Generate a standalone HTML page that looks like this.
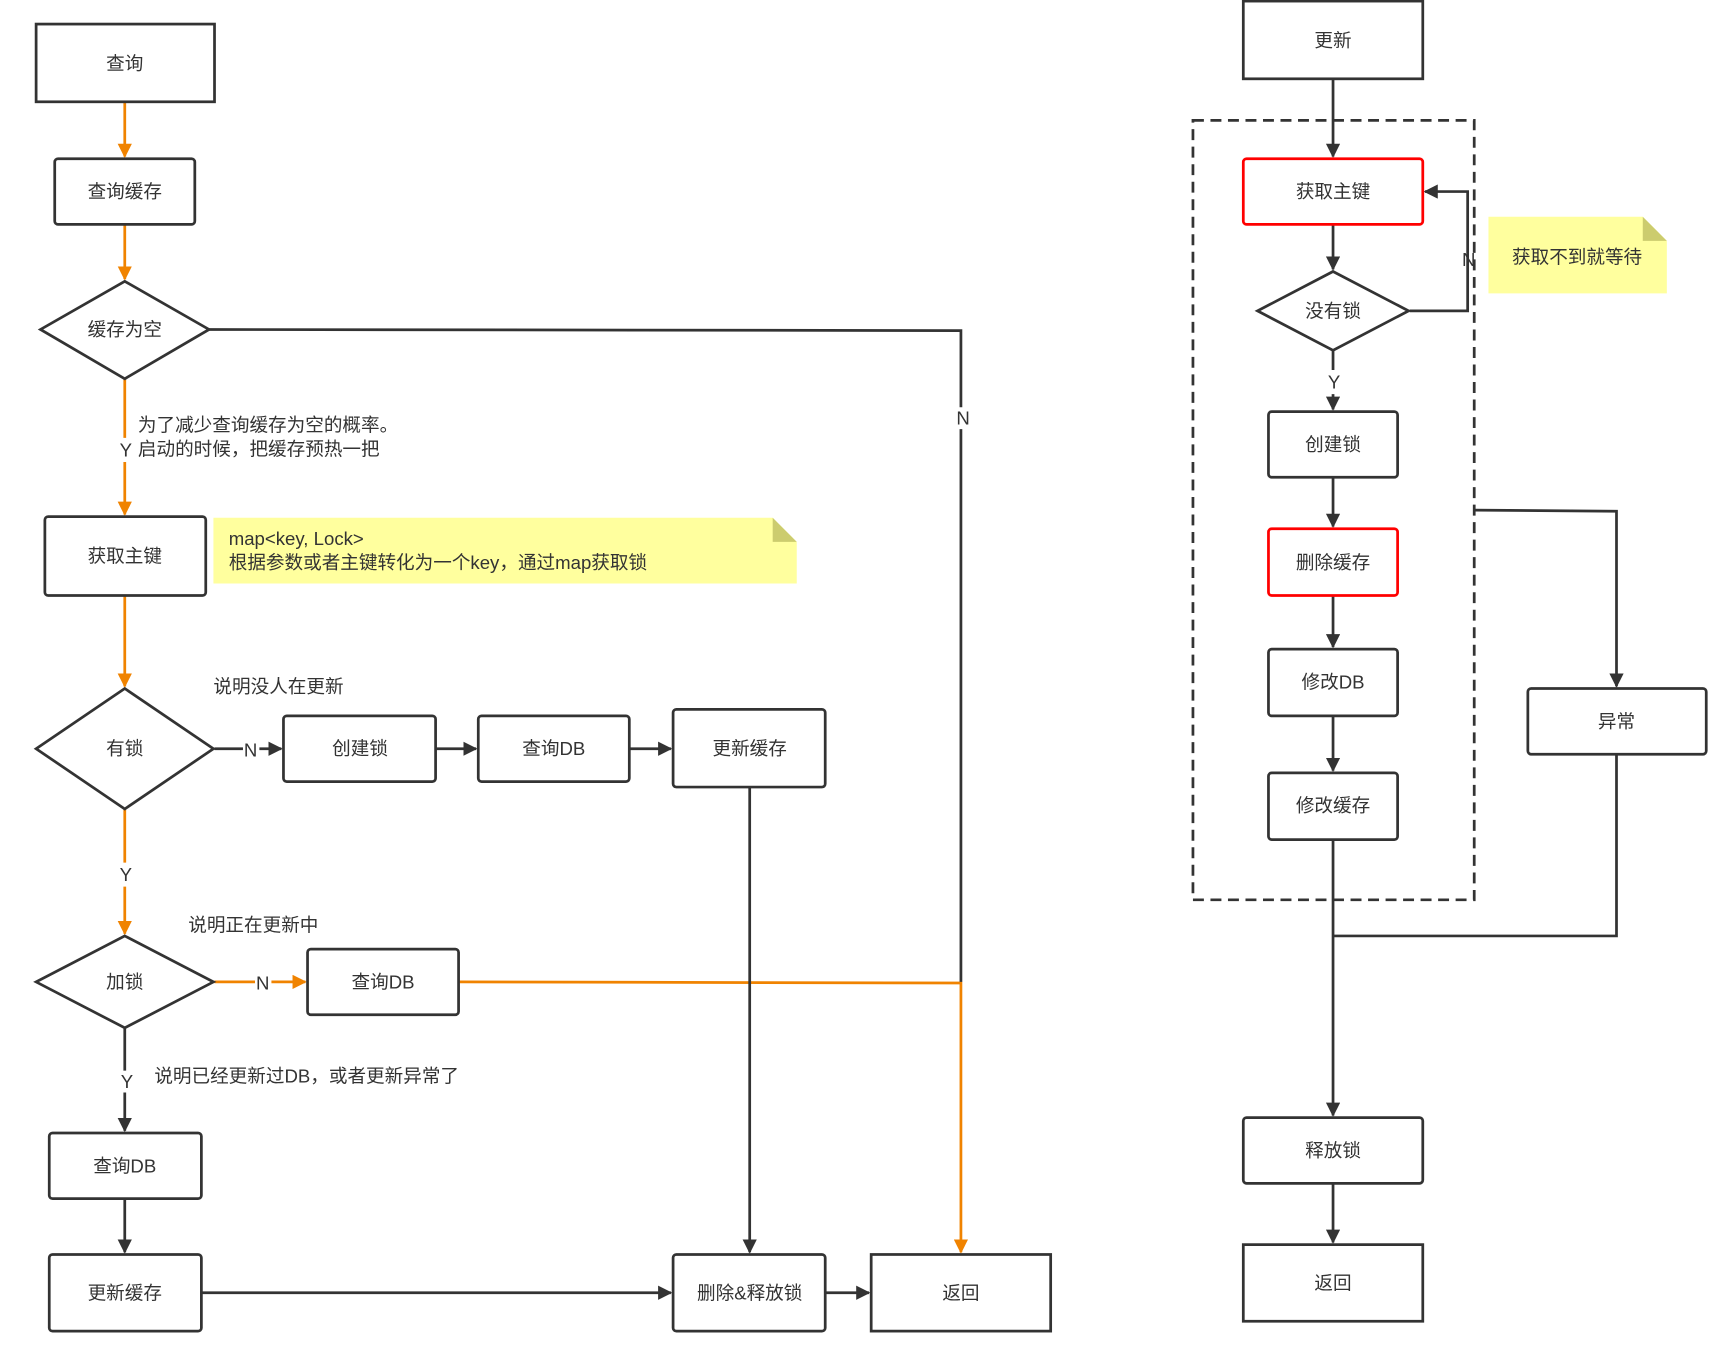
<!DOCTYPE html>
<html><head><meta charset="utf-8"><style>
html,body{margin:0;padding:0;background:#fff;}
svg{display:block;}
text{font-family:"Liberation Sans","Noto Sans CJK SC",sans-serif;font-size:17px;fill:#333;}
.c{text-anchor:middle;dominant-baseline:central;}
</style></head><body>
<svg width="1715" height="1353" viewBox="0 0 1567 1236" preserveAspectRatio="none" xmlns="http://www.w3.org/2000/svg">
<defs>
<marker id="a" viewBox="0 0 10 10" refX="9" refY="5" markerWidth="13" markerHeight="13" markerUnits="userSpaceOnUse" orient="auto"><path d="M0,0L10,5L0,10z" fill="#333"/></marker>
<marker id="b" viewBox="0 0 10 10" refX="9" refY="5" markerWidth="13" markerHeight="13" markerUnits="userSpaceOnUse" orient="auto"><path d="M0,0L10,5L0,10z" fill="#f08300"/></marker>
</defs>
<g fill="none" stroke-width="2.5">
<g stroke="#f08300">
<path d="M114,93V143" marker-end="url(#b)"/>
<path d="M114,205V255" marker-end="url(#b)"/>
<path d="M114,346V400M114,422V470" marker-end="url(#b)"/>
<path d="M114,544V627" marker-end="url(#b)"/>
<path d="M114,739V788M114,810V853" marker-end="url(#b)"/>
<path d="M196,897H233M248,897H279" marker-end="url(#b)"/>
<path d="M419,897L878,898V1144" marker-end="url(#b)"/>
</g>
<g stroke="#333">
<path d="M191,301L878,302V372M878,392V897"/>
<path d="M196,684H222M237,684H257" marker-end="url(#a)"/>
<path d="M398,684H435" marker-end="url(#a)"/>
<path d="M575,684H613" marker-end="url(#a)"/>
<path d="M685,719V1144" marker-end="url(#a)"/>
<path d="M114,939V978M114,998V1033" marker-end="url(#a)"/>
<path d="M114,1095V1144" marker-end="url(#a)"/>
<path d="M184,1181H613" marker-end="url(#a)"/>
<path d="M754,1181H794" marker-end="url(#a)"/>
<path d="M1218,72V143" marker-end="url(#a)"/>
<path d="M1218,205V246" marker-end="url(#a)"/>
<path d="M1288,284H1341V175H1302" marker-end="url(#a)"/>
<path d="M1218,320V338M1218,360V374" marker-end="url(#a)"/>
<path d="M1218,436V481" marker-end="url(#a)"/>
<path d="M1218,544V591" marker-end="url(#a)"/>
<path d="M1218,654V704" marker-end="url(#a)"/>
<path d="M1218,767V1019" marker-end="url(#a)"/>
<path d="M1218,1081V1135" marker-end="url(#a)"/>
<path d="M1347,466L1477,467V627" marker-end="url(#a)"/>
<path d="M1477,689V855H1218"/>
<rect x="1090" y="110" width="257" height="712" stroke-dasharray="10,6"/>
<rect x="33" y="22" width="163" height="71"/>
<rect x="50" y="145" width="128" height="60" rx="3"/>
<path d="M114,257L191,301L114,346L37,301Z" fill="#fff"/>
<rect x="41" y="472" width="147" height="72" rx="3"/>
<path d="M114,629L195,684L114,739L33,684Z"/>
<rect x="259" y="654" width="139" height="60" rx="3"/>
<rect x="437" y="654" width="138" height="60" rx="3"/>
<rect x="615" y="648" width="139" height="71" rx="3"/>
<path d="M114,855L195,897L114,939L33,897Z"/>
<rect x="281" y="867" width="138" height="60" rx="3"/>
<rect x="45" y="1035" width="139" height="60" rx="3"/>
<rect x="45" y="1146" width="139" height="70" rx="3"/>
<rect x="615" y="1146" width="139" height="70" rx="3"/>
<rect x="796" y="1146" width="164" height="70"/>
<rect x="1136" y="1" width="164" height="71"/>
<path d="M1218,248L1287,284L1218,320L1149,284Z" fill="#fff"/>
<rect x="1159" y="376" width="118" height="60" rx="3"/>
<rect x="1159" y="593" width="118" height="61" rx="3"/>
<rect x="1159" y="706" width="118" height="61" rx="3"/>
<rect x="1396" y="629" width="163" height="60" rx="3"/>
<rect x="1136" y="1021" width="164" height="60" rx="3"/>
<rect x="1136" y="1137" width="164" height="70"/>
</g>
<g fill="none" stroke="#f00" stroke-width="2.5">
<rect x="1136" y="145" width="164" height="60" rx="3"/>
<rect x="1159" y="483" width="118" height="61" rx="3"/>
</g>
<path d="M195,473H706L728,495V533H195Z" fill="#ffff9e"/>
<path d="M706,473V495H728Z" fill="#cccc6e"/>
<path d="M1360,198H1501L1523,220V268H1360Z" fill="#ffff9e"/>
<path d="M1501,198V220H1523Z" fill="#cccc6e"/>
<text class="c" x="114" y="58">查询</text>
<text class="c" x="114" y="175">查询缓存</text>
<text class="c" x="114" y="301">缓存为空</text>
<text class="c" x="115" y="411">Y</text>
<text x="126" y="394">为了减少查询缓存为空的概率。</text>
<text x="126" y="416">启动的时候，把缓存预热一把</text>
<text class="c" x="880" y="382">N</text>
<text class="c" x="114" y="508">获取主键</text>
<text x="209" y="498">map&lt;key, Lock&gt;</text>
<text x="209" y="520">根据参数或者主键转化为一个key，通过map获取锁</text>
<text x="195" y="633">说明没人在更新</text>
<text class="c" x="114" y="684">有锁</text>
<text class="c" x="229" y="685">N</text>
<text class="c" x="329" y="684">创建锁</text>
<text class="c" x="506" y="684">查询DB</text>
<text class="c" x="685" y="684">更新缓存</text>
<text class="c" x="115" y="799">Y</text>
<text x="172" y="851">说明正在更新中</text>
<text class="c" x="114" y="897">加锁</text>
<text class="c" x="240" y="898">N</text>
<text class="c" x="350" y="897">查询DB</text>
<text class="c" x="116" y="988">Y</text>
<text x="141" y="989">说明已经更新过DB，或者更新异常了</text>
<text class="c" x="114" y="1065">查询DB</text>
<text class="c" x="114" y="1181">更新缓存</text>
<text class="c" x="685" y="1181">删除&amp;释放锁</text>
<text class="c" x="878" y="1181">返回</text>
<text class="c" x="1218" y="37">更新</text>
<text class="c" x="1218" y="175">获取主键</text>
<text class="c" x="1218" y="284">没有锁</text>
<text class="c" x="1342" y="237">N</text>
<text class="c" x="1441" y="235">获取不到就等待</text>
<text class="c" x="1219" y="349">Y</text>
<text class="c" x="1218" y="406">创建锁</text>
<text class="c" x="1218" y="514">删除缓存</text>
<text class="c" x="1218" y="623">修改DB</text>
<text class="c" x="1218" y="736">修改缓存</text>
<text class="c" x="1477" y="659">异常</text>
<text class="c" x="1218" y="1051">释放锁</text>
<text class="c" x="1218" y="1172">返回</text>
</svg>
</body></html>
